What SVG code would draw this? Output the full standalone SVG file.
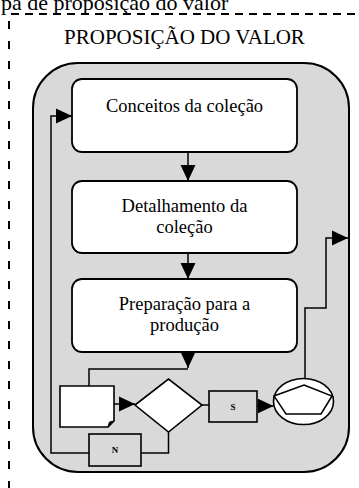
<svg xmlns="http://www.w3.org/2000/svg" width="359" height="488" viewBox="0 0 359 488">
<defs>
<style>
text{font-family:"Liberation Serif","Times New Roman",serif;fill:#000}
.box{fill:#fff;stroke:#000;stroke-width:1.8}
.gbox{fill:#d9d9d9;stroke:#000;stroke-width:1.6}
.ln{fill:none;stroke:#000;stroke-width:1.5}
.lbl{font-size:18.5px;text-anchor:middle}
.sm{font-size:9px;font-weight:bold;text-anchor:middle}
</style>
<marker id="ah" markerUnits="userSpaceOnUse" markerWidth="16" markerHeight="16" viewBox="0 0 15 14" refX="15" refY="7" orient="auto">
<path d="M0,0 L15,7 L0,14 Z" fill="#000"/>
</marker>
</defs>
<rect width="359" height="488" fill="#fff"/>
<text x="1" y="9.5" style="font-size:22px">pa de proposição do valor</text>
<g id="frame">
<line x1="11" y1="14" x2="359" y2="14" stroke="#000" stroke-width="2" stroke-dasharray="8,6"/>
<line x1="9" y1="21" x2="9" y2="488" stroke="#000" stroke-width="2" stroke-dasharray="8,12"/>
</g>
<text x="184.5" y="44" style="font-size:21px;text-anchor:middle">PROPOSIÇÃO DO VALOR</text>
<g id="container">
<rect x="33" y="63" width="316" height="409" rx="45" ry="45" fill="#d9d9d9" stroke="#000" stroke-width="2"/>
</g>
<g id="n1"><rect class="box" x="72" y="79" width="225" height="73" rx="10"/><text class="lbl" x="184.5" y="112">Conceitos da coleção</text></g>
<g id="n2"><rect class="box" x="72" y="181" width="225" height="72" rx="10"/><text class="lbl" x="184.5" y="212">Detalhamento da</text><text class="lbl" x="184.5" y="233">coleção</text></g>
<g id="n3"><rect class="box" x="72" y="279" width="225" height="73" rx="10"/><text class="lbl" x="184.5" y="310">Preparação para a</text><text class="lbl" x="184.5" y="331">produção</text></g>
<g id="doc"><path class="box" d="M60,386 H114 V421 L108,427 H60 Z" style="stroke-width:1.6"/><path d="M108,427 L109.5,422 L114,421" fill="#000" stroke="#000" stroke-width="1"/></g>
<g id="decision"><polygon class="box" points="135,405 168.5,379 202,405 168.5,432" style="stroke-width:1.6"/></g>
<g id="s"><rect class="gbox" x="209" y="391" width="48" height="31"/><text class="sm" x="233" y="410">S</text></g>
<g id="n"><rect class="gbox" x="89" y="434" width="52" height="32"/><text class="sm" x="115" y="453">N</text></g>
<g id="end"><ellipse cx="303.5" cy="401.5" rx="30" ry="23" fill="#fff" stroke="#000" stroke-width="1.6"/><polygon points="304,385 332,396 321,414 286,414 274,396" fill="#fff" stroke="#000" stroke-width="1.5"/></g>
<g id="connectors">
<line class="ln" x1="188" y1="152" x2="188" y2="181" marker-end="url(#ah)"/>
<line class="ln" x1="188" y1="253" x2="188" y2="279" marker-end="url(#ah)"/>
<line class="ln" x1="188" y1="352" x2="188" y2="368" marker-end="url(#ah)"/>
<polyline class="ln" points="188,369 89,369 89,386"/>
<line class="ln" x1="114" y1="404" x2="135" y2="404" marker-end="url(#ah)"/>
<line class="ln" x1="202" y1="405" x2="209" y2="405"/>
<line class="ln" x1="257" y1="406" x2="273.5" y2="406" marker-end="url(#ah)"/>
<polyline class="ln" points="305,378.5 305,308 326,308 326,238 348,238" marker-end="url(#ah)"/>
<polyline class="ln" points="168.5,432 168.5,453 141,453"/>
<polyline class="ln" points="89,453 51,453 51,116 72,116" marker-end="url(#ah)"/>
</g>
</svg>
